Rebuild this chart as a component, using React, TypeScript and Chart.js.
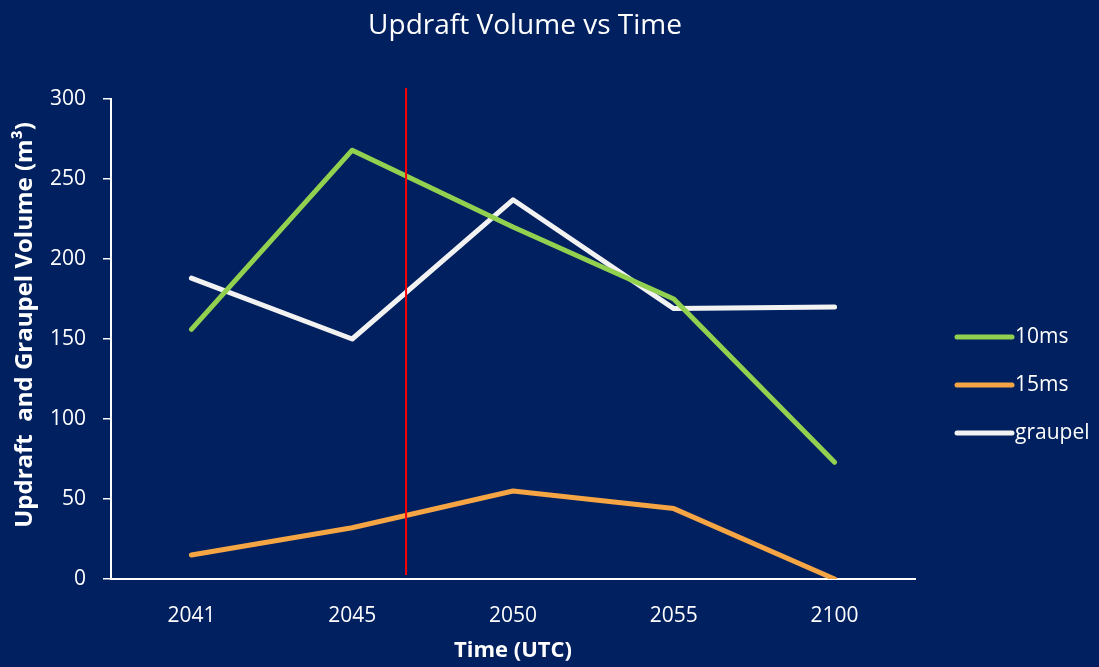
import React, { useEffect, useRef } from "react";
import { Chart, registerables } from "chart.js";

Chart.register(...registerables);

const categories = ["2041", "2045", "2050", "2055", "2100"];
const seriesNames = ["10ms", "15ms", "graupel"];
const values10ms = [156, 268, 220, 175, 73];
const values15ms = [15, 32, 55, 44, 0];
const valuesGraupel = [188, 150, 237, 169, 170];
const seriesColors = ["#92D050", "#F6A545", "#F2F2F2"];
const yTicks = { min: 0, max: 300, step: 50 };
const markerIndex = 1.335; // red marker between 2045 and 2050

const titleText = "Updraft Volume vs Time";
const xTitle = "Time (UTC)";
const yTitle = "Updraft  and Graupel Volume (m³)";

const FONT = "'Open Sans', Lato, sans-serif";

const overlayPlugin = {
  id: "overlay",
  afterDatasetsDraw(chart: any) {
    const { ctx, chartArea, scales } = chart;
    const x = scales.x.getPixelForValue(markerIndex);
    ctx.save();
    ctx.strokeStyle = "#FF0000";
    ctx.lineWidth = 2;
    ctx.beginPath();
    ctx.moveTo(x, chartArea.top - 11);
    ctx.lineTo(x, chartArea.bottom - 4);
    ctx.stroke();
    ctx.restore();
  },
  afterDraw(chart: any) {
    const { ctx, chartArea } = chart;
    ctx.save();
    ctx.fillStyle = "#FFFFFF";
    // title
    ctx.font = `28px ${FONT}`;
    ctx.textAlign = "center";
    ctx.textBaseline = "middle";
    ctx.fillText(titleText, 525, 26);
    // x title
    ctx.font = `bold 22px ${FONT}`;
    ctx.fillText(xTitle, (chartArea.left + chartArea.right) / 2, 651);
    // y title
    ctx.save();
    ctx.translate(25, 325);
    ctx.rotate(-Math.PI / 2);
    ctx.font = `bold 24px ${FONT}`;
    ctx.fillText(yTitle, 0, 0);
    ctx.restore();
    // legend
    const ds = chart.data.datasets;
    ds.forEach((d: any, i: number) => {
      const y = 337 + i * 48;
      ctx.strokeStyle = d.borderColor;
      ctx.lineWidth = 5;
      ctx.lineCap = "round";
      ctx.beginPath();
      ctx.moveTo(957, y);
      ctx.lineTo(1012, y);
      ctx.stroke();
      ctx.fillStyle = "#FFFFFF";
      ctx.font = `21px ${FONT}`;
      ctx.textAlign = "left";
      ctx.textBaseline = "middle";
      ctx.fillText(d.label, 1015, y);
    });
    ctx.restore();
  },
};

export default function App() {
  const ref = useRef<HTMLCanvasElement>(null);
  useEffect(() => {
    if (!ref.current) return;
    const chart = new Chart(ref.current, {
      type: "line",
      data: {
        labels: categories,
        datasets: [values10ms, values15ms, valuesGraupel].map((v, i) => ({
          label: seriesNames[i],
          data: v,
          borderColor: seriesColors[i],
          backgroundColor: seriesColors[i],
          borderWidth: 5,
          pointRadius: 0,
          tension: 0,
          borderCapStyle: "round" as const,
          borderJoinStyle: "round" as const,
        })),
      },
      options: {
        animation: false,
        responsive: true,
        maintainAspectRatio: false,
        layout: { padding: { top: 99, right: 184, left: 0, bottom: 0 } },
        plugins: {
          legend: { display: false },
          title: { display: false },
          tooltip: { enabled: false },
        },
        scales: {
          x: {
            offset: true,
            grid: { display: false, drawTicks: false, tickLength: 0 },
            border: { display: true, color: "#FFFFFF", width: 2 },
            ticks: { color: "#FFFFFF", font: { family: FONT, size: 21 }, padding: 24 },
            afterFit: (s: any) => {
              s.height = 88;
            },
          },
          y: {
            min: yTicks.min,
            max: yTicks.max,
            grid: {
              display: true,
              drawOnChartArea: false,
              drawTicks: true,
              tickLength: 8,
              color: "#FFFFFF",
              lineWidth: 1.5,
            },
            border: { display: true, color: "#FFFFFF", width: 2 },
            ticks: {
              stepSize: yTicks.step,
              color: "#FFFFFF",
              font: { family: FONT, size: 21 },
              padding: 17,
            },
            afterFit: (s: any) => {
              s.width = 111;
            },
          },
        },
      },
      plugins: [overlayPlugin],
    });
    return () => chart.destroy();
  }, []);
  return (
    <div
      style={{
        position: "fixed",
        left: 0,
        top: 0,
        width: 1099,
        height: 667,
        background: "#00205F",
      }}
    >
      <canvas ref={ref} />
    </div>
  );
}
